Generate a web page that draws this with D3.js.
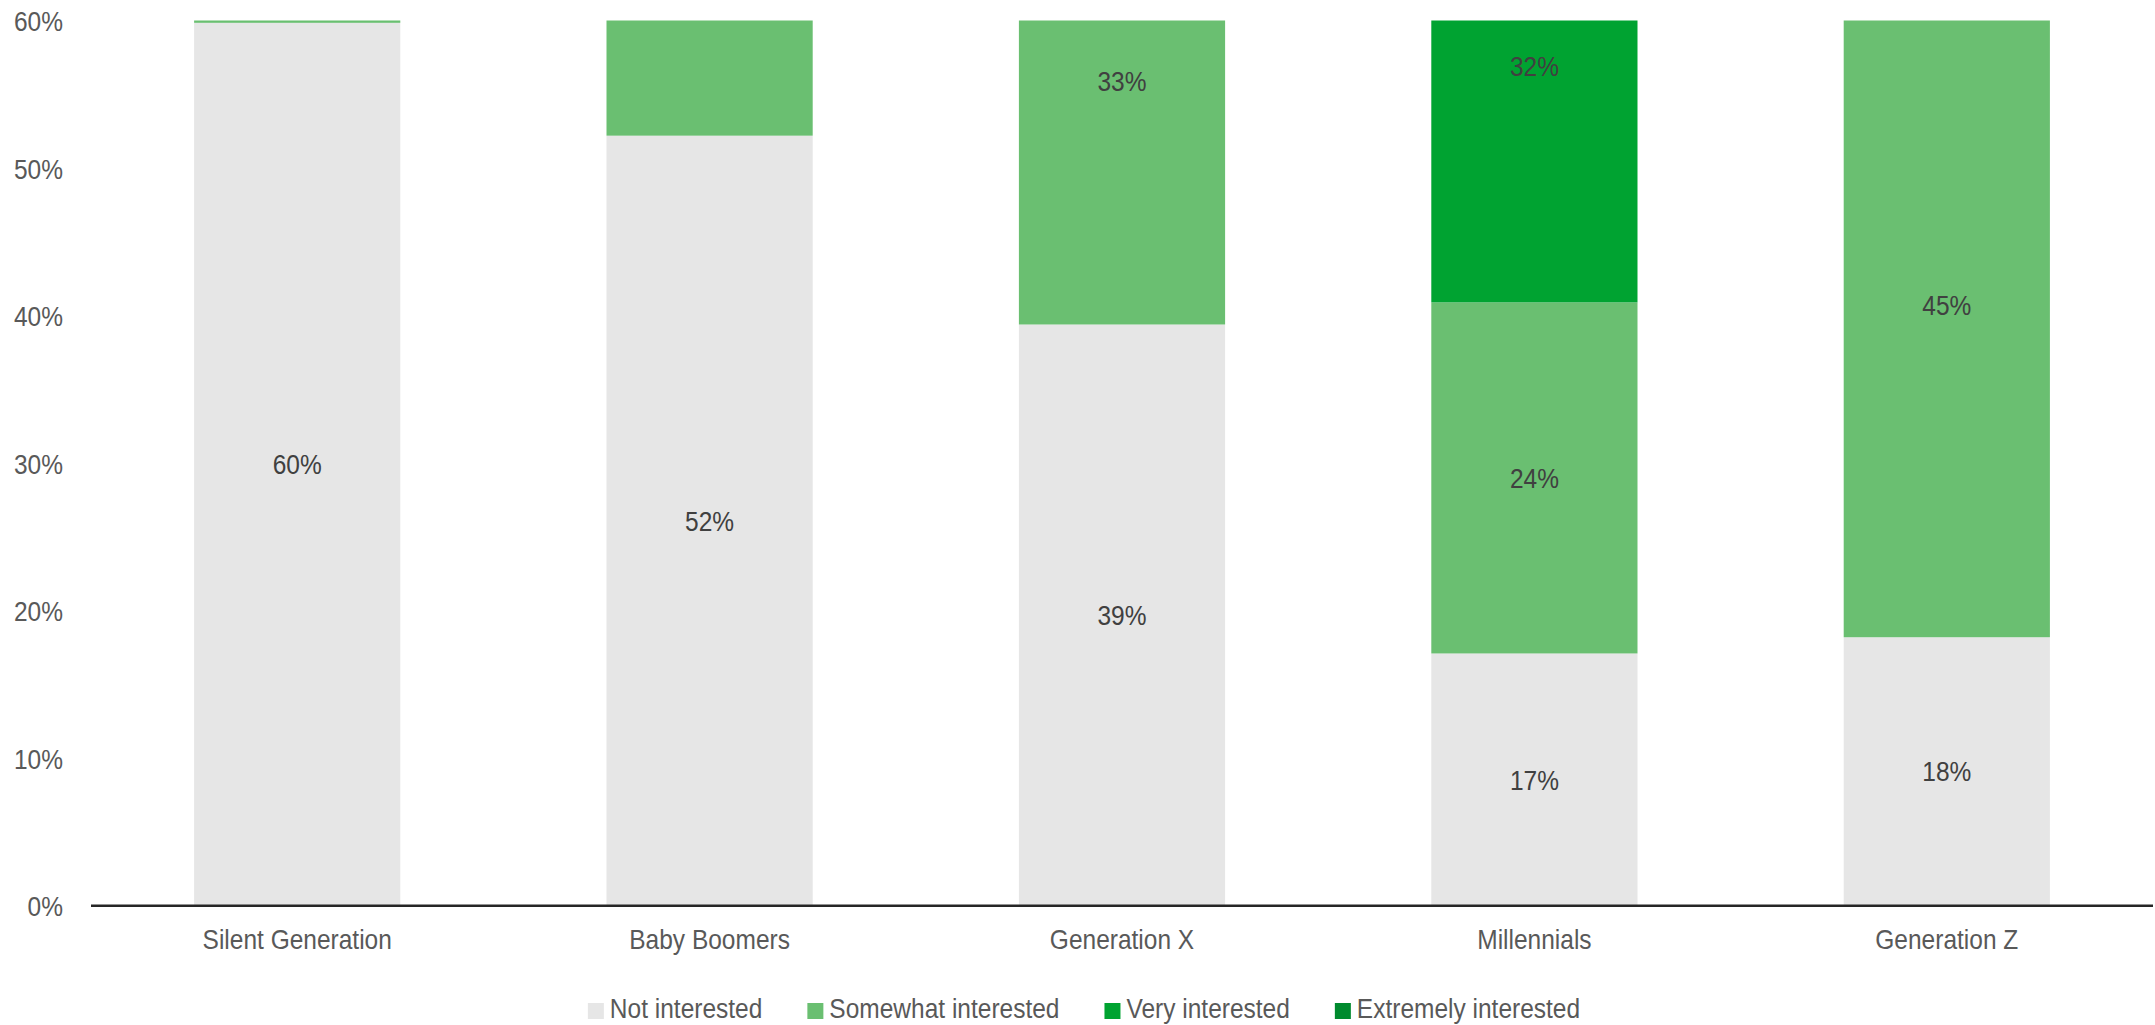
<!DOCTYPE html>
<html>
<head>
<meta charset="utf-8">
<script src="https://cdn.jsdelivr.net/npm/d3@7"></script>
<style>
  html, body { margin: 0; padding: 0; background: #fff; }
  svg { display: block; }
  text { font-family: "Liberation Sans", Arial, sans-serif; }
</style>
</head>
<body>
<svg id="chart" width="2155" height="1025"></svg>
<script>
const categories = ["Silent Generation", "Baby Boomers", "Generation X", "Millennials", "Generation Z"];
const seriesNames = ["Not interested", "Somewhat interested", "Very interested", "Extremely interested"];
const notInterested = [59.85, 52.2, 39.4, 17.1, 18.2];
const somewhatInterested = [22, 27, 33, 23.8, 45];
const veryInterested = [11, 13, 17, 32, 22];
const extremelyInterested = [7, 8, 11, 27, 15];
const yTicks = [0, 10, 20, 30, 40, 50, 60];
const colors = ["#e6e6e6", "#6abf71", "#00a331", "#008a2e"];

const seriesValues = [notInterested, somewhatInterested, veryInterested, extremelyInterested];
const rows = categories.map((c, i) => {
  const r = { cat: c };
  seriesNames.forEach((s, k) => r[s] = seriesValues[k][i]);
  return r;
});

const svg = d3.select("#chart");
const W = 2155, H = 1025;
const margin = { left: 91, right: 2, top: 20.6, bottom: 1025 - 905.7 };
const x = d3.scaleBand().domain(categories).range([margin.left, W - margin.right]).paddingInner(0.5).paddingOuter(0.25);
const y = d3.scaleLinear().domain([0, 60]).range([H - margin.bottom, margin.top]);
const fontSize = 28.5;
const NARROW = 0.86;

// make text look like a narrow sans (horizontal compression)
function narrow(sel) {
  sel.each(function () {
    const t = d3.select(this);
    const tx = +t.attr("x") || 0, ty = +t.attr("y") || 0;
    t.attr("x", 0).attr("y", 0)
     .attr("transform", `translate(${tx},${ty}) scale(${NARROW},1)`)
     .attr("font-size", fontSize)
     .style("font-family", "'Liberation Sans', Arial, sans-serif");
  });
}

const stack = d3.stack().keys(seriesNames)(rows);

svg.append("defs").append("clipPath").attr("id", "plotclip")
  .append("rect")
  .attr("x", margin.left).attr("y", margin.top)
  .attr("width", W - margin.left - margin.right)
  .attr("height", y(0) - margin.top);

// bars
const g = svg.append("g").attr("clip-path", "url(#plotclip)");
stack.forEach((layer, k) => {
  g.selectAll(null).data(layer).enter().append("rect")
    .attr("x", d => x(d.data.cat))
    .attr("width", x.bandwidth())
    .attr("y", d => y(d[1]))
    .attr("height", d => y(d[0]) - y(d[1]))
    .attr("fill", colors[k]);
});

// data labels (only when the segment's midpoint sits inside the plot)
const lab = svg.append("g");
stack.forEach((layer, k) => {
  layer.forEach(d => {
    const mid = (d[0] + d[1]) / 2;
    if (mid > 60 || d[1] - d[0] < 0.5) return;
    lab.append("text")
      .attr("x", x(d.data.cat) + x.bandwidth() / 2)
      .attr("y", y(mid) + 10)
      .attr("text-anchor", "middle")
      .attr("fill", "#404040")
      .text(Math.round(d[1] - d[0]) + "%");
  });
});
narrow(lab.selectAll("text"));

// y axis labels
const yAxis = d3.axisLeft(y).tickValues(yTicks).tickFormat(d => d + "%").tickSize(0).tickPadding(0);
const ya = svg.append("g").attr("transform", "translate(63,0)").call(yAxis);
ya.select(".domain").remove();
ya.selectAll("text").attr("fill", "#595959").attr("dy", null).attr("y", 10);
narrow(ya.selectAll("text"));

// x axis
const xAxis = d3.axisBottom(x).tickSize(0).tickPadding(0);
const xa = svg.append("g").attr("transform", `translate(0,${y(0)})`).call(xAxis);
xa.select(".domain").attr("stroke", "#262626").attr("stroke-width", 2.5)
  .attr("d", `M${margin.left},0H${W - margin.right}`);
xa.selectAll("text").attr("fill", "#595959").attr("dy", null).attr("y", 43);
narrow(xa.selectAll("text"));

// legend
const legend = svg.append("g");
const items = legend.selectAll(null).data(seriesNames).enter().append("g");
items.append("rect").attr("width", 16).attr("height", 16).attr("y", -15)
  .attr("fill", (d, i) => colors[i]);
items.append("text").attr("x", 22).attr("y", 0).attr("fill", "#595959")
  .text(d => d);
narrow(items.selectAll("text"));
let pos = 0;
items.each(function () {
  const w = 22 + d3.select(this).select("text").node().getBBox().width * NARROW;
  d3.select(this).attr("transform", `translate(${pos},0)`);
  pos += w + 45;
});
const total = pos - 45;
legend.attr("transform", `translate(${1084 - total / 2},1018)`);
</script>
</body>
</html>
